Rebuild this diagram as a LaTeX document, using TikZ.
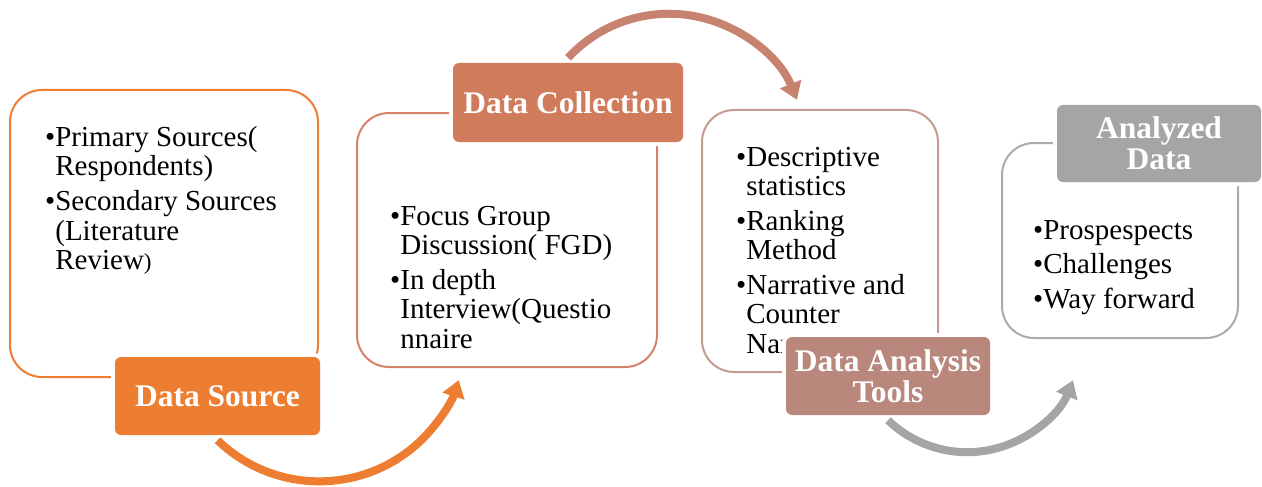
\documentclass[tikz,border=0pt]{standalone}
\usepackage{fontspec}
\setmainfont{Liberation Serif}
\usetikzlibrary{arrows.meta}
\definecolor{cA}{HTML}{ED7D31}
\definecolor{cB}{HTML}{D17B5D}
\definecolor{cBline}{HTML}{D4826A}
\definecolor{cBarr}{HTML}{C7836F}
\definecolor{cC}{HTML}{BA877D}
\definecolor{cCline}{HTML}{C59A91}
\definecolor{cD}{HTML}{A5A5A5}
\definecolor{cDline}{HTML}{ABABAB}
\begin{document}
\begin{tikzpicture}[x=1pt,y=-1pt,
  panel/.style={draw=#1, line width=2pt, rounded corners=32pt, fill=white, inner sep=0pt},
  lab/.style={fill=#1, rounded corners=6pt, inner sep=0pt, text=white, align=center,
    font=\bfseries\fontsize{31.5}{31}\selectfont,
    preaction={draw=white, line width=8pt}},
  body/.style={anchor=north west, inner sep=0pt, align=left,
    font=\fontsize{29}{29.5}\selectfont},
  arr/.style={draw=#1, line width=8pt, line cap=butt,
    -{Triangle[width=22pt,length=17pt]}}]
\useasboundingbox (0,0) rectangle (1262,487);
% panels
\node[panel=cA, minimum width=308pt, minimum height=287pt] (b1) at (164,233.5) {};
\node[panel=cBline, minimum width=300pt, minimum height=254pt] (b2) at (507,240) {};
\node[panel=cCline, minimum width=236pt, minimum height=262pt] (b3) at (820,241) {};
\node[panel=cDline, minimum width=236pt, minimum height=195pt] (b4) at (1120,240.5) {};
% texts
\node[body] (t1) at (45,125) {\rule{0pt}{21pt}\textbullet Primary Sources(\\
  \hphantom{\textbullet}Respondents)\\[5.5pt]
  \textbullet Secondary Sources\\
  \hphantom{\textbullet}(Literature\\
  \hphantom{\textbullet}Review{\fontsize{23}{23}\selectfont)}};
\node[body] (t2) at (390,204) {\rule{0pt}{21pt}\textbullet Focus Group\\
  \hphantom{\textbullet}Discussion( FGD)\\[5pt]
  \textbullet In depth\\
  \hphantom{\textbullet}Interview(Questio\\
  \hphantom{\textbullet}nnaire};
\node[body] (t3) at (736,145) {\rule{0pt}{21pt}\textbullet Descriptive\\
  \hphantom{\textbullet}statistics\\[5pt]
  \textbullet Ranking\\
  \hphantom{\textbullet}Method\\[5pt]
  \textbullet Narrative and\\
  \hphantom{\textbullet}Counter\\
  \hphantom{\textbullet}Narrative};
\node[body] (t4) at (1033,218) {\rule{0pt}{21pt}\textbullet Prospespects\\[5pt]
  \textbullet Challenges\\[5pt]
  \textbullet Way forward};
% labels
\node[lab=cA, minimum width=205pt, minimum height=78pt] (l1) at (217.5,396) {Data Source};
\node[lab=cB, minimum width=230pt, minimum height=79pt] (l2) at (568,102.5) {Data Collection};
\node[lab=cC, minimum width=204pt, minimum height=78pt] (l3) at (888,376) {Data Analysis\\Tools};
\node[lab=cD, minimum width=204pt, minimum height=77pt] (l4) at (1159,143.5) {Analyzed\\Data};
% arrows
\draw[arr=cA] ([yshift=-5pt]l1.south) arc[start angle=-134, end angle=-18, radius=146.6pt];
\draw[arr=cBarr] ([yshift=5pt]l2.north) arc[start angle=137.1, end angle=22.1, radius=138pt];
\draw[arr=cD] ([yshift=-5pt]l3.south) arc[start angle=-134, end angle=-21.6, radius=113.9pt];
\end{tikzpicture}
\end{document}
